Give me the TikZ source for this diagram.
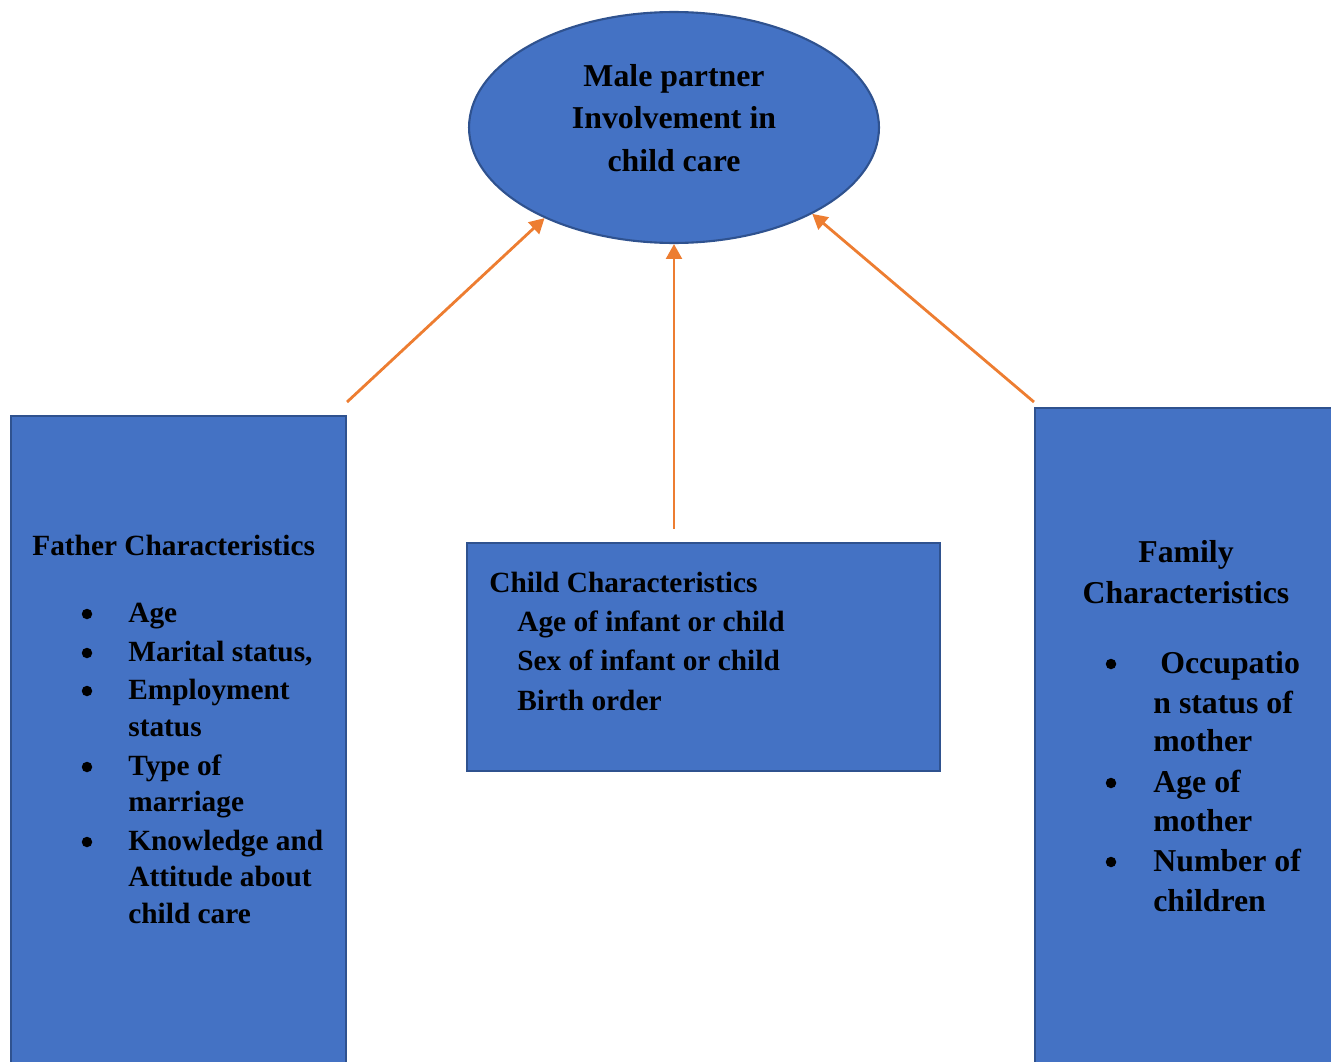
\documentclass[tikz,border=0pt]{standalone}
\usepackage{fontspec}
\setmainfont{Liberation Serif}
\usetikzlibrary{shapes.geometric, arrows.meta, positioning, calc}
\definecolor{boxblue}{RGB}{68,114,196}
\definecolor{edgeblue}{RGB}{47,82,143}
\definecolor{linkorange}{RGB}{237,125,49}
\tikzset{
  factor/.style={rectangle, draw=edgeblue, fill=boxblue, line width=1.2pt, inner sep=0pt},
  bigtext/.style={font=\fontsize{18.1}{23.9}\selectfont\bfseries, inner sep=0pt, anchor=base},
  smalltext/.style={font=\fontsize{16.7}{21.9}\selectfont\bfseries, inner sep=0pt, anchor=base west},
  dot/.style={circle, fill=black, inner sep=0pt, minimum size=0.21cm},
  link/.style={draw=linkorange, line width=1.6pt, -{Triangle[length=8.5pt,width=9pt]}}
}

\begin{document}
\begin{tikzpicture}[x=0.02cm, y=-0.02cm]
    \clip (0,0) rectangle (1331,1061);

    % Outcome
    \node[ellipse, draw=edgeblue, fill=boxblue, line width=1.2pt, inner sep=0pt,
          minimum width=8.2cm, minimum height=4.62cm] (goal) at (674,127.5) {};
    \node[bigtext] (goal1) at (674,87) {Male partner};
    \node[bigtext] (goal2) at (674,129) {Involvement in};
    \node[bigtext] (goal3) at (674,171) {child care};

    % Factor boxes
    \node[factor, minimum width=6.7cm, minimum height=13.48cm] (father) at (178.5,753) {};
    \node[factor, minimum width=9.46cm, minimum height=4.56cm] (child) at (703.5,657) {};
    \node[factor, minimum width=6.3cm, minimum height=13.64cm] (family) at (1192.5,749) {};

    % Father characteristics
    \node[smalltext] (fatitle) at (32,555) {Father Characteristics};
    \foreach \y/\txt in {622/Age, 661/{Marital status,}, 699/Employment, 736/status,
                         775/Type of, 811/marriage, 850/Knowledge and,
                         886/Attitude about, 923/child care}
        \node[smalltext] (fa\y) at (128,\y) {\txt};
    \foreach \y in {622,661,699,775,850}
        \node[dot] (fb\y) at (87,\y-8) {};

    % Child characteristics
    \node[smalltext] (chtitle) at (489,592) {Child Characteristics};
    \foreach \y/\txt in {631/Age of infant or child, 670/Sex of infant or child, 710/Birth order}
        \node[smalltext] (ch\y) at (517,\y) {\txt};

    % Family characteristics
    \node[bigtext] (fmtitle1) at (1186,562) {Family};
    \node[bigtext] (fmtitle2) at (1186,603) {Characteristics};
    \node[bigtext, anchor=base west] (fm673) at (1160,673) {Occupatio};
    \foreach \y/\txt in {713/n status of, 751/mother, 792/Age of, 831/mother,
                         871/Number of, 911/children}
        \node[bigtext, anchor=base west] (fm\y) at (1153,\y) {\txt};
    \foreach \y in {673,792,871}
        \node[dot] (fd\y) at (1111,\y-9) {};

    % Links
    \coordinate (fatherTip) at ($(father.north east)+(0,-13)$);
    \coordinate (childTip) at ($(goal.south |- child.north)+(0,-13)$);
    \coordinate (familyTip) at ($(family.north west)+(0,-5)$);
    \draw[link] (fatherTip) -- (goal.215);
    \draw[link] (childTip) -- (goal.south);
    \draw[link] (familyTip) -- (goal.328);
\end{tikzpicture}
\end{document}
